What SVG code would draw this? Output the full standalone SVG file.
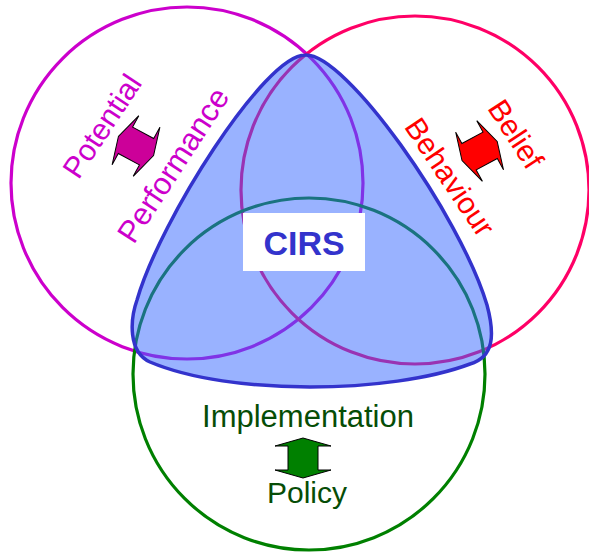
<svg xmlns="http://www.w3.org/2000/svg" width="589" height="552" viewBox="0 0 589 552">
<style>
.c{fill:none;stroke-width:3.2}
.t{font-family:"Liberation Sans",Arial,sans-serif;font-size:30px;text-anchor:middle}
.arr{stroke:#000;stroke-width:1}
</style>
<defs>
<path id="dbl" d="M0,-20 L28,-12 L15,-12 L15,12 L28,12 L0,20 L-28,12 L-15,12 L-15,-12 L-28,-12 Z"/>
</defs>
<rect width="589" height="552" fill="#fff"/>
<g id="circles">
<circle id="potential-circle" class="c" cx="187" cy="183" r="176" stroke="#cc00cc"/>
<circle id="belief-circle" class="c" cx="415" cy="190" r="174" stroke="#ff0066"/>
<circle id="policy-circle" class="c" cx="309" cy="374" r="176" stroke="#008000"/>
</g>
<g id="cirs-region">
<path d="M305,55 C345,52 460,215 487,305 C495,335 494,357 470,364 C390,394 230,396 150,362 C128,352 130,320 137,300 C160,220 265,55 305,55 Z" fill="#3366ff" fill-opacity="0.5" stroke="#3333cc" stroke-width="3.5"/>
</g>
<g id="potential-performance">
<g transform="translate(102,126) rotate(-56.5)"><text class="t" y="0" dy="0.35em" fill="#cc00cc">Potential</text></g>
<g transform="translate(173,165) rotate(-57)"><text class="t" y="0" dy="0.35em" fill="#cc00cc" style="font-size:31px">Performance</text></g>
<use href="#dbl" class="arr" fill="#cc0099" transform="translate(136,146) rotate(-61.5)"/>
</g>
<g id="belief-behaviour">
<g transform="translate(516,134) rotate(57)"><text class="t" y="0" dy="0.35em" fill="#ff0000">Belief</text></g>
<g transform="translate(450,177) rotate(56)"><text class="t" y="0" dy="0.35em" fill="#ff0000">Behaviour</text></g>
<use href="#dbl" class="arr" fill="#ff0000" transform="translate(479.6,151) rotate(61.5)"/>
</g>
<g id="implementation-policy">
<text class="t" x="308" y="427" fill="#064d06" style="font-size:31px">Implementation</text>
<text class="t" x="307" y="503" fill="#064d06">Policy</text>
<use href="#dbl" class="arr" fill="#008000" transform="translate(303,458)"/>
</g>
<g id="cirs">
<rect x="243" y="213" width="122" height="58" fill="#fff"/>
<text x="304" y="255" font-family="Liberation Sans,Arial,sans-serif" font-weight="bold" font-size="34" text-anchor="middle" fill="#3333cc">CIRS</text>
</g>
</svg>
